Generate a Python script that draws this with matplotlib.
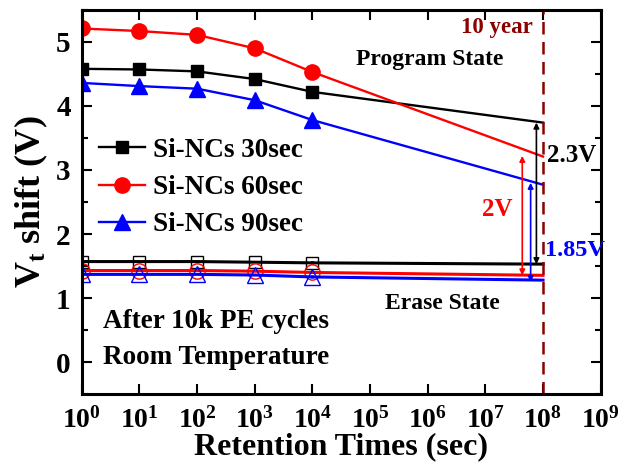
import matplotlib.pyplot as plt
import numpy as np

plt.rcParams['font.family'] = 'Liberation Serif'
plt.rcParams['font.weight'] = 'bold'
plt.rcParams['axes.labelweight'] = 'bold'
plt.rcParams['mathtext.fontset'] = 'custom'
plt.rcParams['mathtext.rm'] = 'Liberation Serif:bold'
plt.rcParams['mathtext.it'] = 'Liberation Serif:bold'
plt.rcParams['mathtext.bf'] = 'Liberation Serif:bold'

# measured retention times (sec) and the 10-year extrapolation point
times = [1, 10, 100, 1000, 10000]
t_10yr = 1e8

labels = ['Si-NCs 30sec', 'Si-NCs 60sec', 'Si-NCs 90sec']
colors = ['black', 'red', 'blue']
markers = ['s', 'o', '^']
msizes = [9, 11, 12]

prog_30 = [4.58, 4.57, 4.54, 4.42, 4.22]
prog_60 = [5.21, 5.17, 5.11, 4.90, 4.53]
prog_90 = [4.36, 4.31, 4.27, 4.09, 3.78]
prog_end = [3.74, 3.21, 2.77]

erase_30 = [1.57, 1.57, 1.57, 1.56, 1.55]
erase_60 = [1.43, 1.43, 1.43, 1.42, 1.40]
erase_90 = [1.37, 1.37, 1.37, 1.36, 1.33]
erase_end = [1.53, 1.355, 1.28]

# memory window arrows: (log10 x position, top, bottom)
windows = [(7.885, 3.74, 1.53), (7.64, 3.22, 1.355), (7.785, 2.80, 1.25)]

fig = plt.figure(figsize=(6.29, 4.72), dpi=100)
ax = fig.add_axes([0.130, 0.165, 0.825, 0.814])

prog = [prog_30, prog_60, prog_90]
erase = [erase_30, erase_60, erase_90]
for i in range(3):
    ax.plot(times, prog[i], color=colors[i], marker=markers[i], ms=msizes[i],
            lw=1.7, label=labels[i])
    ax.plot([times[-1], t_10yr], [prog[i][-1], prog_end[i]], color=colors[i], lw=1.7)
    ax.plot(times, erase[i], color=colors[i], marker=markers[i], ms=msizes[i],
            mfc='none', mew=1.0, lw=2.2)
    ax.plot([times[-1], t_10yr], [erase[i][-1], erase_end[i]], color=colors[i], lw=2.2)

for (lx, top, bot), c in zip(windows, colors):
    ax.annotate('', xy=(10**lx, bot), xytext=(10**lx, top),
                arrowprops=dict(arrowstyle='<|-|>', color=c, lw=1.2,
                                mutation_scale=8, shrinkA=0, shrinkB=0))

ax.axvline(t_10yr, color='#8b0000', ls=(0, (5, 3)), lw=1.8)

ax.text(0.87, 0.955, '10 year', transform=ax.transAxes, color='#8b0000',
        fontsize=16.5, ha='right', va='center')
ax.text(0.67, 0.87, 'Program State', transform=ax.transAxes, fontsize=17,
        ha='center', va='center')
ax.text(0.695, 0.235, 'Erase State', transform=ax.transAxes, fontsize=17,
        ha='center', va='center')
ax.text(0.897, 0.62, '2.3V', transform=ax.transAxes, fontsize=18,
        ha='left', va='center')
ax.text(0.8, 0.48, '2V', transform=ax.transAxes, fontsize=18, color='red',
        ha='center', va='center')
ax.text(0.893, 0.375, '1.85V', transform=ax.transAxes, fontsize=17.5, color='blue',
        ha='left', va='center')
ax.text(0.04, 0.188, 'After 10k PE cycles', transform=ax.transAxes, fontsize=19.5,
        ha='left', va='center')
ax.text(0.04, 0.096, 'Room Temperature', transform=ax.transAxes, fontsize=19.5,
        ha='left', va='center')

ax.set_xscale('log')
ax.set_xlim(1, 1e9)
ax.set_ylim(-0.5, 5.5)
ax.set_xticks([10**k for k in range(10)])
ax.set_xticklabels([r'$10^{%d}$' % k for k in range(10)])
ax.set_yticks(range(0, 6))
ax.set_yticks(np.arange(-0.5, 5.6, 0.5), minor=True)
ax.tick_params(which='both', direction='in', top=True, right=True, width=1.5)
ax.tick_params(which='major', length=7, labelsize=21, pad=8)
ax.tick_params(which='minor', length=4)
ax.tick_params(axis='x', which='major', labelsize=20, pad=9)
for s in ax.spines.values():
    s.set_linewidth(2.2)

ax.set_xlabel('Retention Times (sec)', fontsize=23, labelpad=-1)
ax.set_ylabel(r'V$_\mathregular{t}$ shift (V)', fontsize=26, labelpad=4)

ax.legend(loc='upper left', bbox_to_anchor=(0.012, 0.695), frameon=False,
          fontsize=19.5, handlelength=1.7, handletextpad=0.3, labelspacing=0.45,
          borderaxespad=0)

fig.savefig('out.png', dpi=100)
